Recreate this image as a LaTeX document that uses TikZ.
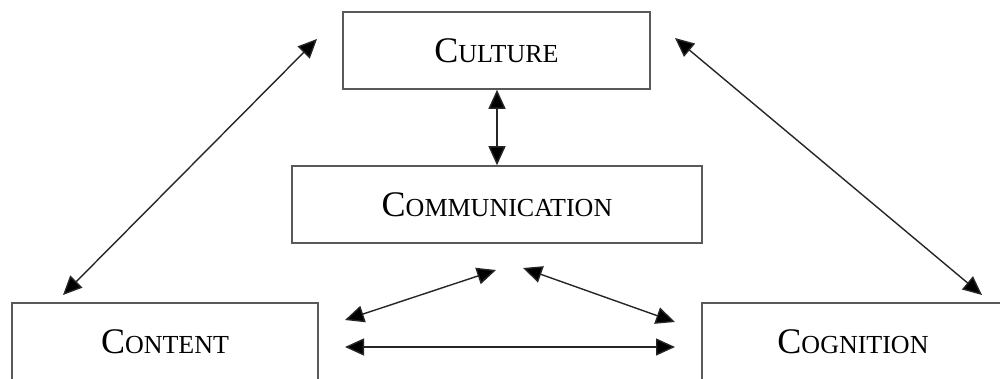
\documentclass[tikz,border=0pt]{standalone}
\usepackage{fontspec}
\setmainfont{Liberation Serif}
\usetikzlibrary{arrows.meta}
\newcommand{\bigC}[2]{{\fontsize{36}{36}\selectfont #1}{\fontsize{26}{26}\selectfont #2}}
\tikzset{
  box/.style={draw=black!65, line width=1.6pt, rectangle, minimum height=77pt, inner sep=0pt, font=\fontsize{36}{36}\selectfont},
  link/.style={draw=black!85, line width=1.4pt, {Triangle[length=19pt,width=17pt,fill=black]}-{Triangle[length=19pt,width=17pt,fill=black]}}
}
\begin{document}
\begin{tikzpicture}[x=1pt,y=-1pt]
\useasboundingbox (0,0) rectangle (1000,378);
\fill[white] (0,0) rectangle (1000,378);
\node[box, minimum width=307pt] (culture) at (496.5,50.5) {\bigC{C}{ULTURE}};
\node[box, minimum width=410pt] (comm) at (497,204.5) {\bigC{C}{OMMUNICATION}};
\node[box, minimum width=306pt] (content) at (165,341.5) {\bigC{C}{ONTENT}};
\node[box, minimum width=302pt] (cog) at (853,341.5) {\bigC{C}{OGNITION}};
\coordinate (a1) at (63,295);
\coordinate (a2) at (317,39);
\coordinate (b1) at (675,38);
\coordinate (b2) at (982,295);
\coordinate (c1) at (345,320);
\coordinate (c2) at (496,270);
\coordinate (d1) at (523,268);
\coordinate (d2) at (675,322);
\coordinate (e1) at (345,347);
\coordinate (e2) at (675,347);
\draw[link] (culture.south -| 497,0) -- (comm.north -| 497,0);
\draw[link] (a1) -- (a2);
\draw[link] (b1) -- (b2);
\draw[link] (c1) -- (c2);
\draw[link] (d1) -- (d2);
\draw[link] (e1) -- (e2);
\end{tikzpicture}
\end{document}
